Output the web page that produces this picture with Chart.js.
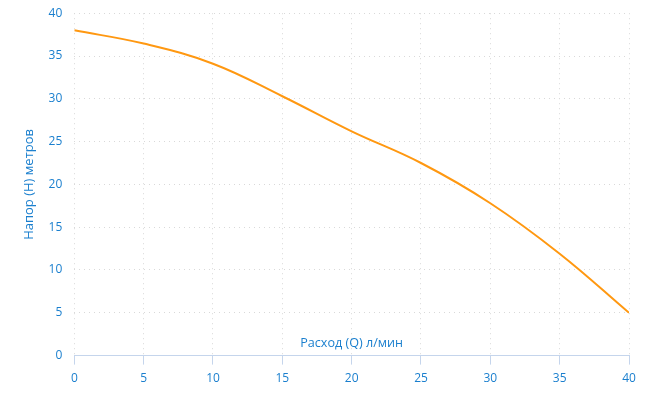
<!DOCTYPE html>
<html>
<head>
<meta charset="utf-8">
<script src="https://cdn.jsdelivr.net/npm/chart.js@4"></script>
<style>
  html, body { margin: 0; padding: 0; background: #fff; overflow: hidden; }
  #wrap { width: 661px; height: 417px; margin-top: -6px; }
</style>
</head>
<body>
<div id="wrap"><canvas id="chart"></canvas></div>
<script>
const flow = [0, 5, 10, 15, 20, 25, 30, 35, 40];
const head = [38, 36.45, 34.1, 30.3, 26.2, 22.5, 17.8, 11.9, 5.0];
const xTitle = 'Расход (Q) л/мин';
const yTitle = 'Напор (H) метров';

const blue = '#1a7fce';
const axisBlue = '#c5d5ec';

let points = [];
for (let i = 0; i < flow.length; i++) {
    points.push({x: flow[i], y: head[i]});
}

// x axis title sits inside the plot, just above the axis line
const innerTitle = {
    id: 'innerTitle',
    afterDraw(chart) {
        const ctx = chart.ctx;
        const area = chart.chartArea;
        ctx.save();
        ctx.font = '12.6px "Open Sans"';
        ctx.fillStyle = blue;
        ctx.textAlign = 'center';
        ctx.textBaseline = 'middle';
        ctx.fillText(xTitle, (area.left + area.right) / 2, area.bottom - 12);
        ctx.restore();
    }
};

new Chart(document.getElementById('chart'), {
    type: 'line',
    data: {
        datasets: [{
            data: points,
            borderColor: '#ff9811',
            borderWidth: 2,
            pointRadius: 0,
            tension: 0.4,
            fill: false
        }]
    },
    options: {
        responsive: true,
        maintainAspectRatio: false,
        animation: false,
        layout: { padding: { top: 0, right: 32, left: 17, bottom: 18 } },
        plugins: { legend: { display: false }, tooltip: { enabled: false } },
        scales: {
            x: {
                type: 'linear',
                min: 0,
                max: 40,
                ticks: {
                    stepSize: 5,
                    color: blue,
                    font: { family: 'Open Sans', size: 12 },
                    padding: 7
                },
                grid: {
                    color: '#d9d9d9',
                    tickColor: axisBlue,
                    tickLength: 9,
                    tickBorderDash: []
                },
                border: { display: true, color: axisBlue, width: 1, dash: [1, 4] }
            },
            y: {
                min: 0,
                max: 40,
                ticks: {
                    stepSize: 5,
                    color: blue,
                    font: { family: 'Open Sans', size: 12 },
                    padding: 12
                },
                grid: { color: '#d9d9d9', drawTicks: false },
                border: { display: false, dash: [1, 4] },
                title: {
                    display: true,
                    text: yTitle,
                    color: blue,
                    font: { family: 'Open Sans', size: 13 },
                    padding: { bottom: 0 }
                }
            }
        }
    },
    plugins: [innerTitle]
});
</script>
</body>
</html>
